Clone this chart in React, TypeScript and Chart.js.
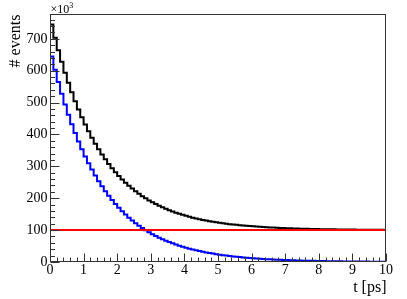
import React, { useEffect, useRef } from "react";
import { Chart, registerables } from "chart.js";
Chart.register(...registerables);

// bin low edges (100 bins of width 0.1 ps from 0 to 10)
const binLow: number[] = Array.from({ length: 100 }, (_, i) => i / 10);
const histMax = 10;

// values in units of 10^3 events
const signal: number[] = [
  645, 603.4, 564.5, 528.1, 494.0, 462.2, 432.4, 404.5, 378.4, 354.0,
  331.1, 309.8, 289.8, 271.1, 253.6, 237.3, 222.0, 207.7, 194.3, 181.7,
  170.0, 159.1, 148.8, 139.2, 130.2, 121.8, 114.0, 106.6, 99.7, 93.3,
  87.3, 81.7, 76.4, 71.5, 66.8, 62.5, 58.5, 54.7, 51.2, 47.9,
  44.8, 41.9, 39.2, 36.7, 34.3, 32.1, 30.0, 28.1, 26.3, 24.6,
  23.0, 21.5, 20.1, 18.8, 17.6, 16.5, 15.4, 14.4, 13.5, 12.6,
  11.8, 11.0, 10.3, 9.7, 9.0, 8.5, 7.9, 7.4, 6.9, 6.5,
  6.1, 5.7, 5.3, 5.0, 4.6, 4.3, 4.1, 3.8, 3.6, 3.3,
  3.1, 2.9, 2.7, 2.5, 2.4, 2.2, 2.1, 1.9, 1.8, 1.7,
  1.6, 1.5, 1.4, 1.3, 1.2, 1.1, 1.0, 1.0, 0.9, 0.8,
];

const total: number[] = [
  745, 703.4, 664.5, 628.1, 594.0, 562.2, 532.4, 504.5, 478.4, 454.0,
  431.1, 409.8, 389.8, 371.1, 353.6, 337.3, 322.0, 307.7, 294.3, 281.7,
  270.0, 259.1, 248.8, 239.2, 230.2, 221.8, 214.0, 206.6, 199.7, 193.3,
  187.3, 181.7, 176.4, 171.5, 166.8, 162.5, 158.5, 154.7, 151.2, 147.9,
  144.8, 141.9, 139.2, 136.7, 134.3, 132.1, 130.0, 128.1, 126.3, 124.6,
  123.0, 121.5, 120.1, 118.8, 117.6, 116.5, 115.4, 114.4, 113.5, 112.6,
  111.8, 111.0, 110.3, 109.7, 109.0, 108.5, 107.9, 107.4, 106.9, 106.5,
  106.1, 105.7, 105.3, 105.0, 104.6, 104.3, 104.1, 103.8, 103.6, 103.3,
  103.1, 102.9, 102.7, 102.5, 102.4, 102.2, 102.1, 101.9, 101.8, 101.7,
  101.6, 101.5, 101.4, 101.3, 101.2, 101.1, 101.0, 101.0, 100.9, 100.8,
];

const flatX: number[] = [0, 10];
const flatY: number[] = [100, 100];

const xTicks: number[] = [0, 1, 2, 3, 4, 5, 6, 7, 8, 9, 10];
const yTicks: number[] = [0, 100, 200, 300, 400, 500, 600, 700];
const xMinorStep = 0.2;
const yMinorStep = 20;

const X_MIN = 0;
const X_MAX = 10;
const Y_MIN = 0;
const Y_MAX = 778;

const FONT = "'Liberation Serif', 'DejaVu Serif', serif";

function histPoints(vals: number[]) {
  const pts = binLow.map((x, i) => ({ x, y: vals[i] }));
  pts.push({ x: histMax, y: vals[vals.length - 1] });
  return pts;
}

const rootAxes = {
  id: "rootAxes",
  afterDraw(chart: any) {
    const ctx = chart.ctx as CanvasRenderingContext2D;
    const a = chart.chartArea;
    const xs = chart.scales.x;
    const ys = chart.scales.y;
    ctx.save();
    // frame
    ctx.strokeStyle = "#333";
    ctx.lineWidth = 1;
    const L = Math.round(a.left) + 0.5;
    const R = Math.round(a.right) - 0.5;
    const T = Math.round(a.top) + 0.5;
    const B = Math.round(a.bottom) - 0.5;
    ctx.strokeRect(L, T, R - L, B - T);

    // x ticks (inside)
    ctx.beginPath();
    for (let v = X_MIN; v <= X_MAX + 1e-9; v += xMinorStep) {
      const px = Math.round(xs.getPixelForValue(v)) + 0.5;
      const major = Math.abs(v - Math.round(v)) < 1e-6;
      const len = major ? 8 : 4;
      ctx.moveTo(px, B);
      ctx.lineTo(px, B - len);
    }
    // y ticks (inside)
    for (let v = Y_MIN; v <= Y_MAX; v += yMinorStep) {
      const py = Math.round(ys.getPixelForValue(v)) + 0.5;
      const major = v % 100 === 0;
      const len = major ? 9 : 4.5;
      ctx.moveTo(L, py);
      ctx.lineTo(L + len, py);
    }
    ctx.stroke();

    // tick labels
    ctx.fillStyle = "#000";
    ctx.font = `14px ${FONT}`;
    ctx.textAlign = "center";
    ctx.textBaseline = "middle";
    xTicks.forEach((t) => {
      ctx.fillText(String(t), xs.getPixelForValue(t), B + 9);
    });
    ctx.textAlign = "right";
    yTicks.forEach((t) => {
      ctx.fillText(String(t), L - 3, ys.getPixelForValue(t));
    });

    // exponent
    ctx.textAlign = "left";
    ctx.textBaseline = "alphabetic";
    ctx.font = `12px ${FONT}`;
    ctx.fillText("\u00d710", L, 13);
    const w = ctx.measureText("\u00d710").width;
    ctx.font = `8px ${FONT}`;
    ctx.fillText("3", L + w, 8);

    // axis titles
    ctx.font = `16px ${FONT}`;
    ctx.textAlign = "right";
    ctx.textBaseline = "alphabetic";
    ctx.fillText("t [ps]", R + 1, 292);

    ctx.translate(20, T);
    ctx.rotate(-Math.PI / 2);
    ctx.textAlign = "right";
    ctx.fillText("# events", 0, 0);
    ctx.restore();
  },
};

export default function App() {
  const ref = useRef<HTMLCanvasElement | null>(null);
  useEffect(() => {
    document.body.style.margin = "0";
    if (!ref.current) return;
    const chart = new Chart(ref.current, {
      type: "line",
      data: {
        datasets: [
          {
            label: "flat",
            data: flatX.map((x, i) => ({ x, y: flatY[i] })),
            borderColor: "#ff0000",
            borderWidth: 2,
            pointRadius: 0,
            fill: false,
            order: 0,
          },
          {
            label: "total",
            data: histPoints(total),
            borderColor: "#000000",
            borderWidth: 2,
            pointRadius: 0,
            stepped: true,
            fill: false,
            order: 1,
          },
          {
            label: "signal",
            data: histPoints(signal),
            borderColor: "#0000ff",
            borderWidth: 2,
            pointRadius: 0,
            stepped: true,
            fill: false,
            order: 2,
          },
        ],
      },
      options: {
        animation: false,
        responsive: false,
        maintainAspectRatio: false,
        layout: { padding: { left: 50, right: 21, top: 14, bottom: 37 } },
        plugins: { legend: { display: false }, tooltip: { enabled: false } },
        scales: {
          x: { type: "linear", min: X_MIN, max: X_MAX, display: false },
          y: { type: "linear", min: Y_MIN, max: Y_MAX, display: false },
        },
      },
      plugins: [rootAxes],
    });
    return () => chart.destroy();
  }, []);
  return (
    <canvas
      ref={ref}
      width={407}
      height={299}
      style={{ display: "block", width: 407, height: 299 }}
    />
  );
}
